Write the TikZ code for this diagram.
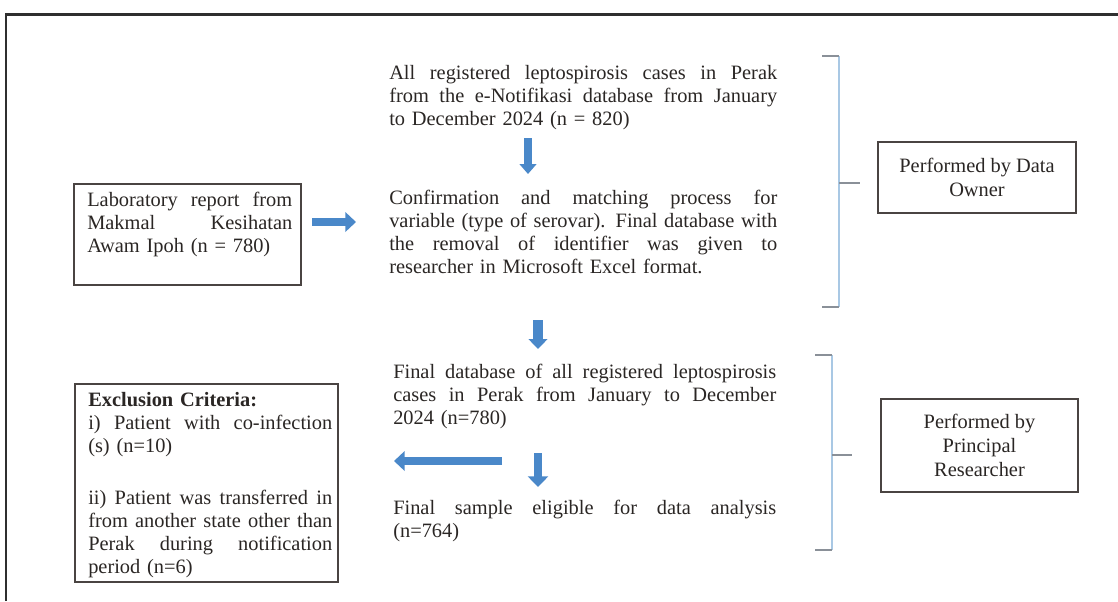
\documentclass[tikz,border=0pt]{standalone}
\usepackage{fontspec}
\setmainfont{Liberation Serif}
\usetikzlibrary{arrows.meta}
\definecolor{txt}{HTML}{2A2624}
\definecolor{boxc}{HTML}{4A4442}
\definecolor{arr}{HTML}{4A88C9}
\definecolor{brk}{HTML}{A9C8E4}
\definecolor{tick}{HTML}{8A9098}
\definecolor{frame}{HTML}{2F2F2F}
\newcommand{\jl}[2]{\leavevmode\hbox to #1{\spaceskip=0.25em plus 1fil\relax #2}}
\tikzset{
  every node/.style={text=txt},
  mainfont/.style={font=\fontsize{15.3}{17.25}\selectfont},
  textblock/.style={mainfont, anchor=base west, inner sep=0pt},
  framebox/.style={draw=boxc, line width=1.5pt, rectangle, inner sep=0pt},
  sidebox/.style={framebox, align=center, font=\fontsize{15.3}{18}\selectfont},
  barrow/.style={draw=arr, line width=#1},
  bracketline/.style={draw=brk, line width=1.3pt},
  bracketick/.style={draw=tick, line width=0.9pt}
}
\begin{document}
\begin{tikzpicture}[x=0.75pt, y=-0.75pt]
\useasboundingbox (0,0) rectangle (1118,601);
% outer frame (cut off at right and bottom)
\draw[frame, line width=2.2pt] (6,601) -- (6,14.5) -- (1118,14.5);

% main column texts
\node[textblock, text width=291pt] (t1) at (389,79) {%
\jl{291pt}{All registered leptospirosis cases in Perak}\\
\jl{291pt}{from the e-Notifikasi database from January}\\
to December 2024 (n = 820)};

\node[textblock, text width=291pt] (t2) at (389,204) {%
\jl{291pt}{Confirmation and matching process for}\\
\jl{291pt}{variable (type of serovar). Final database with}\\
\jl{291pt}{the removal of identifier was given to}\\
researcher in Microsoft Excel format.};

\node[textblock, text width=287.25pt] (t3) at (393,378) {%
\jl{287.25pt}{Final database of all registered leptospirosis}\\
\jl{287.25pt}{cases in Perak from January to December}\\
2024 (n=780)};

\node[textblock, text width=287.25pt] (t4) at (393,514) {%
\jl{287.25pt}{Final sample eligible for data analysis}\\
(n=764)};

% laboratory box
\node[framebox, minimum width=170.25pt, minimum height=75.75pt] (lab) at (187.5,234.5) {};
\node[textblock, text width=153.75pt] (labt) at (87,206) {%
\jl{153.75pt}{Laboratory report from}\\
\jl{153.75pt}{Makmal Kesihatan}\\
Awam Ipoh (n = 780)};

% exclusion box
\node[framebox, minimum width=197.25pt, minimum height=148.5pt] (exc) at (206.5,483) {};
\node[textblock, text width=183pt] (exct) at (88,406) {%
\textbf{Exclusion Criteria:}\\
\jl{183pt}{i) Patient with co-infection}\\
(s) (n=10)\\[22pt]
\jl{183pt}{ii) Patient was transferred in}\\
\jl{183pt}{from another state other than}\\
\jl{183pt}{Perak during notification}\\
period (n=6)};

% side boxes
\node[sidebox, minimum width=148.5pt, minimum height=53.25pt] (own) at (977,177.5) {Performed by Data\\Owner};
\node[sidebox, minimum width=147.75pt, minimum height=69.75pt] (pr) at (979.5,445.5) {Performed by\\Principal\\Researcher};

% block arrows
\coordinate (r1s) at (312,222);  \coordinate (r1e) at (356,222);
\coordinate (d1s) at (528,138);  \coordinate (d1e) at (528,174);
\coordinate (d2s) at (538,320);  \coordinate (d2e) at (538,349);
\coordinate (l1s) at (502,461);  \coordinate (l1e) at (394,461);
\coordinate (d3s) at (538,453);  \coordinate (d3e) at (538,487);
\draw[barrow=6.5pt, -{Triangle[width=14.5pt, length=8pt]}] (r1s) -- (r1e);
\draw[barrow=5.5pt, -{Triangle[width=12.5pt, length=7.5pt]}] (d1s) -- (d1e);
\draw[barrow=7pt, -{Triangle[width=14pt, length=7.5pt]}] (d2s) -- (d2e);
\draw[barrow=6.5pt, -{Triangle[width=14.5pt, length=8pt]}] (l1s) -- (l1e);
\draw[barrow=6.5pt, -{Triangle[width=15pt, length=8pt]}] (d3s) -- (d3e);

% brackets
\draw[bracketline] (839,56) -- (839,307);
\draw[bracketick] (822,56) -- (839,56);
\draw[bracketick] (822,307) -- (839,307);
\coordinate (b1m) at (839,183);
\coordinate (b1t) at (860,183);
\draw[bracketick] (b1m) -- (b1t);

\draw[bracketline] (832,355) -- (832,550);
\draw[bracketick] (815,355) -- (832,355);
\draw[bracketick] (815,550) -- (832,550);
\coordinate (b2m) at (832,455);
\coordinate (b2t) at (852,455);
\draw[bracketick] (b2m) -- (b2t);
\end{tikzpicture}
\end{document}
